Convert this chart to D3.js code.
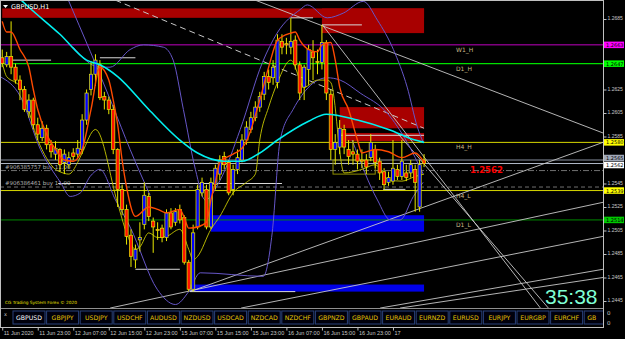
<!DOCTYPE html>
<html>
<head>
<meta charset="UTF-8">
<title>GBPUSD,H1</title>
<script src="https://d3js.org/d3.v7.min.js"></script>
<style>
  body { margin: 0; background: #000; }
  svg { display: block; font-family: "DejaVu Sans", sans-serif; }
</style>
</head>
<body>
<svg></svg>
<script>
const width = 625, height = 339;

// ---- data (H1 bars, index 0 = 11 Jun 15:00) ----
const open  = [1.2652,1.2646,1.2653,1.2644,1.2633,1.2625,1.2606,1.2616,1.2595,1.2584,1.2592,1.2578,1.2570,1.2574,1.2563,1.2561,1.2571,1.2570,1.2574,1.2599,
               1.2625,1.2638,1.2646,1.2619,1.2616,1.2608,1.2574,1.2540,1.2523,1.2501,1.2480,1.2497,1.2510,1.2534,1.2513,1.2506,1.2507,1.2499,1.2520,1.2512,
               1.2523,1.2516,1.2478,1.2455,1.2508,1.2537,1.2540,1.2508,1.2544,1.2553,1.2568,1.2563,1.2540,1.2557,1.2565,1.2582,1.2591,1.2601,1.2610,1.2621,
               1.2636,1.2635,1.2631,1.2666,1.2664,1.2661,1.2667,1.2646,1.2627,1.2642,1.2657,1.2649,1.2648,1.2665,1.2621,1.2574,1.2576,1.2591,1.2574,1.2572,
               1.2570,1.2565,1.2565,1.2567,1.2574,1.2564,1.2555,1.2546,1.2547,1.2557,1.2551,1.2554,1.2554,1.2557,1.2525,1.2565];
const high  = [1.2659,1.2657,1.2683,1.2647,1.2637,1.2628,1.2621,1.2618,1.2601,1.2598,1.2595,1.2582,1.2581,1.2575,1.2574,1.2572,1.2575,1.2582,1.2604,1.2625,
               1.2649,1.2655,1.2650,1.2623,1.2619,1.2612,1.2575,1.2544,1.2527,1.2506,1.2493,1.2512,1.2546,1.2537,1.2516,1.2512,1.2510,1.2523,1.2524,1.2524,
               1.2527,1.2518,1.2480,1.2510,1.2544,1.2550,1.2544,1.2550,1.2561,1.2569,1.2572,1.2565,1.2561,1.2574,1.2587,1.2598,1.2606,1.2615,1.2623,1.2640,
               1.2642,1.2650,1.2672,1.2672,1.2669,1.2686,1.2671,1.2649,1.2646,1.2663,1.2667,1.2659,1.2680,1.2667,1.2625,1.2587,1.2599,1.2595,1.2582,1.2582,
               1.2574,1.2574,1.2570,1.2587,1.2578,1.2567,1.2558,1.2555,1.2582,1.2561,1.2582,1.2561,1.2565,1.2561,1.2565,1.2570];
const low   = [1.2644,1.2644,1.2638,1.2630,1.2616,1.2606,1.2601,1.2591,1.2582,1.2581,1.2574,1.2567,1.2565,1.2555,1.2553,1.2558,1.2565,1.2567,1.2570,1.2595,
               1.2620,1.2628,1.2616,1.2608,1.2604,1.2570,1.2525,1.2518,1.2493,1.2474,1.2473,1.2487,1.2506,1.2513,1.2486,1.2497,1.2495,1.2496,1.2506,1.2509,
               1.2511,1.2476,1.2453,1.2453,1.2506,1.2534,1.2506,1.2506,1.2540,1.2548,1.2557,1.2535,1.2535,1.2553,1.2563,1.2578,1.2588,1.2598,1.2606,1.2616,
               1.2625,1.2629,1.2626,1.2655,1.2655,1.2655,1.2642,1.2616,1.2616,1.2629,1.2633,1.2638,1.2642,1.2616,1.2565,1.2561,1.2570,1.2570,1.2561,1.2561,
               1.2557,1.2558,1.2553,1.2564,1.2558,1.2548,1.2540,1.2543,1.2544,1.2548,1.2548,1.2547,1.2550,1.2521,1.2521,1.2559];
const close = [1.2647,1.2653,1.2644,1.2633,1.2625,1.2608,1.2616,1.2595,1.2587,1.2592,1.2578,1.2572,1.2575,1.2561,1.2570,1.2567,1.2568,1.2575,1.2599,1.2622,
               1.2638,1.2650,1.2618,1.2616,1.2608,1.2574,1.2540,1.2523,1.2500,1.2483,1.2489,1.2499,1.2535,1.2517,1.2508,1.2505,1.2499,1.2520,1.2508,1.2521,
               1.2514,1.2478,1.2455,1.2503,1.2540,1.2546,1.2508,1.2546,1.2558,1.2565,1.2561,1.2537,1.2557,1.2567,1.2582,1.2593,1.2601,1.2610,1.2619,1.2636,
               1.2631,1.2644,1.2667,1.2661,1.2663,1.2666,1.2646,1.2622,1.2644,1.2659,1.2652,1.2648,1.2665,1.2622,1.2574,1.2580,1.2592,1.2576,1.2568,1.2570,
               1.2564,1.2564,1.2559,1.2580,1.2563,1.2554,1.2544,1.2550,1.2558,1.2551,1.2564,1.2550,1.2561,1.2546,1.2561,1.2562];

// indicator lines: [bar index, price]
const maCyan = [[4,1.2702],[6,1.2695],[13,1.2672],[19,1.2650],[22,1.2646],[26,1.2636],[33,1.2608],[40,1.2582],[44,1.2571],[50,1.2564],
                [54,1.2564],[58,1.2571],[62,1.2582],[69,1.2598],[73,1.2604],[80,1.2599],[87,1.2591],[93,1.2582],[95,1.2580]];
const maOrange = [[0,1.2683],[1,1.2674],[2,1.2674],[4,1.2659],[6,1.2644],[7,1.2625],[8,1.2608],[10,1.2587],[12,1.2574],[14,1.2565],[16,1.2564],
                  [18,1.2574],[20,1.2608],[22,1.2644],[24,1.2633],[25,1.2616],[26,1.2595],[27,1.2565],[28,1.2542],[30,1.2517],[33,1.2525],[35,1.2523],
                  [37,1.2520],[40,1.2523],[41,1.2516],[42,1.2507],[44,1.2508],[46,1.2512],[47,1.2531],[48,1.2546],[49,1.2563],[52,1.2570],[54,1.2575],
                  [55,1.2581],[58,1.2616],[60,1.2644],[62,1.2667],[65,1.2673],[66,1.2674],[67,1.2667],[69,1.2659],[71,1.2657],[72,1.2663],[74,1.2665],
                  [75,1.2650],[76,1.2627],[78,1.2608],[80,1.2582],[81,1.2571],[84,1.2574],[87,1.2572],[90,1.2567],[93,1.2571],[95,1.2563]];
const maYellow = [[0,1.2648],[1,1.2636],[3,1.2631],[4,1.2628],[8,1.2582],[12,1.2557],[13,1.2555],[15,1.2553],[17,1.2563],[18,1.2571],[21,1.2591],
                  [26,1.2528],[28,1.2503],[30,1.2489],[31,1.2491],[33,1.2503],[35,1.2499],[37,1.2500],[40,1.2506],[42,1.2489],[43,1.2480],[44,1.2483],
                  [47,1.2506],[49,1.2517],[52,1.2537],[55,1.2546],[57,1.2553],[58,1.2582],[60,1.2610],[62,1.2631],[65,1.2650],[68,1.2627],[71,1.2633],
                  [73,1.2633],[74,1.2631],[77,1.2554],[81,1.2557],[84,1.2561],[87,1.2548],[90,1.2547],[93,1.2551],[95,1.2553]];
const bandUpper = [[16,1.2661],[22,1.2644],[24.3,1.2644],[28.8,1.2659],[31.8,1.2663],[36.3,1.2661],[38.5,1.2650],[40.8,1.2608],[43.5,1.2557],
                   [45.7,1.2531],[49.1,1.2548],[53.6,1.2591],[58.6,1.2648],[61.9,1.2673],[67.1,1.2693],[68.7,1.2697],[73.2,1.2686],[76.8,1.2690],
                   [81.3,1.2700],[84.5,1.2684],[88.1,1.2659],[91.2,1.2627],[93.5,1.2593],[94.8,1.2580]];
const bandLower = [[-0.5,1.2636],[4.1,1.2619],[8.6,1.2574],[13.1,1.2546],[15.3,1.2534],[17.6,1.2537],[19.8,1.2551],[22,1.2557],[25.5,1.2531],
                   [28.8,1.2508],[34.9,1.2455],[39,1.2442],[42,1.2453],[44.6,1.2469],[58.8,1.2466],[60.8,1.2503],[62.6,1.2582],[65.5,1.2608],[73.2,1.2635],
                   [76.1,1.2633],[80.6,1.2622],[86.7,1.2605],[91.2,1.2580],[94.8,1.2553]];
const bandSteep = [[14.9,1.2701],[24.8,1.2612],[28.8,1.2574],[33.3,1.2535]];
const bandLate  = [[78.8,1.2582],[84.5,1.2531],[87.4,1.2514],[89.6,1.2514],[92.6,1.2534],[94.8,1.2546]];

// support / resistance levels
const levelNames  = ["W1_H", "D1_H", "H4_H", "H4_L", "D1_L"];
const levelPrices = [1.2663, 1.2647, 1.2580, 1.2539, 1.2514];
const askPrice = 1.2565, bidPrice = 1.2562;
const orderNames  = ["#906385757 buy 11.00", "#906386461 buy 11.00"];
const orderPrices = [1.2556, 1.2542];

// zones: [from bar, to bar, top price, bottom price]
const supplyZones = [[0,95,1.2694,1.2686],[72,95,1.2694,1.2673],[76,95,1.2610,1.2592],[76,95,1.2588,1.2581]];
const demandZones = [[47,95,1.2518,1.2504],[42,95,1.2459,1.2453]];

// trend lines: [bar1, price1, bar2, price2]
const trendLines = [[57,1.2701,135.3,1.2588],[72.1,1.2680,121.2,1.2439],[89.2,1.2587,123,1.2439],
                    [42.3,1.2453,135.3,1.2580],[24.3,1.2439,135.3,1.2529],[53.8,1.2439,135.3,1.2500],
                    [85.1,1.2439,135.3,1.2472],[89.6,1.2439,135.3,1.2465]];
const dashedLines = [[25.5,1.2701,95,1.2592]];
// short horizontal marks: [bar1, bar2, price]
const hMarks = [[2,11,1.2650],[22,30,1.2652],[65,70,1.2686],[72,81,1.2680],[12.6,63,1.2545],[30,40,1.2472],
                [42.3,66,1.2453],[85.8,90.8,1.2540],[76,95,1.2586]];
const boxMarks = [[74.5,84,1.2565,1.2553]];

const priceTicks = [1.2685,1.2665,1.2645,1.2625,1.2605,1.2585,1.2565,1.2545,1.2525,1.2505,1.2485,1.2465,1.2445];
const timeTickBars = [0,8,16,24,32,40,48,56,64,72,80,88];
const timeTickLabels = ["11 Jun 2020","11 Jun 23:00","12 Jun 07:00","12 Jun 15:00","12 Jun 23:00","15 Jun 07:00",
                        "15 Jun 15:00","15 Jun 23:00","16 Jun 07:00","16 Jun 15:00","16 Jun 23:00","17"];
const symbols = ["GBPUSD","GBPJPY","USDJPY","USDCHF","AUDUSD","NZDUSD","USDCAD","NZDCAD","NZDCHF","GBPNZD",
                 "GBPAUD","EURAUD","EURNZD","EURUSD","EURJPY","EURGBP","EURCHF","GBPCAD"];
const timer = "35:38";

// ---- layout ----
const plotR = 603, plotB = 308, panelB = 327;
const svg = d3.select("svg").attr("width", width).attr("height", height);
svg.append("rect").attr("width", width).attr("height", height).attr("fill", "#000");

const x = d3.scaleLinear().domain([-0.5, 135.3]).range([0, plotR]);
const y = d3.scaleLinear().domain([1.2445, 1.2685]).range([301, 19]);

svg.append("clipPath").attr("id", "plot")
  .append("rect").attr("x", 0).attr("y", 1).attr("width", plotR).attr("height", plotB - 1);
const g = svg.append("g").attr("clip-path", "url(#plot)");

// zones
g.selectAll(".supply").data(supplyZones).join("rect")
  .attr("x", d => x(d[0])).attr("width", d => x(d[1]) - x(d[0]))
  .attr("y", d => y(d[2])).attr("height", d => y(d[3]) - y(d[2]))
  .attr("fill", "#a80000");
g.selectAll(".demand").data(demandZones).join("rect")
  .attr("x", d => x(d[0])).attr("width", d => x(d[1]) - x(d[0]))
  .attr("y", d => y(d[2])).attr("height", d => y(d[3]) - y(d[2]))
  .attr("fill", "#0000e8");

// horizontal levels
const levelLine = {W1_H: "#c000c0", D1_H: "#00e000", H4_H: "#d8d800", H4_L: "#d8d800", D1_L: "#008a00"};
const levelBox  = {W1_H: "#ff00ff", D1_H: "#00ff00", H4_H: "#ffff00", H4_L: "#ffff00", D1_L: "#00c800"};
levelNames.forEach((n, k) => {
  g.append("line").attr("x1", 0).attr("x2", plotR)
    .attr("y1", y(levelPrices[k])).attr("y2", y(levelPrices[k]))
    .attr("stroke", levelLine[n]).attr("stroke-width", n === "D1_H" ? 1.3 : 1);
  g.append("text").attr("x", 456).attr("y", y(levelPrices[k]) + 7)
    .attr("font-size", 6).attr("fill", "#c8b888").text(n);
});
g.append("line").attr("x1", 0).attr("x2", plotR).attr("y1", y(askPrice)).attr("y2", y(askPrice))
  .attr("stroke", "#8890a0");
g.append("line").attr("x1", 0).attr("x2", plotR).attr("y1", y(bidPrice)).attr("y2", y(bidPrice))
  .attr("stroke", "#b0b8c8");
orderPrices.forEach((p, k) => {
  g.append("line").attr("x1", 0).attr("x2", plotR).attr("y1", y(p)).attr("y2", y(p))
    .attr("stroke", "#707070").attr("stroke-dasharray", k === 0 ? "6,2,1,2" : "4,3");
  g.append("text").attr("x", 5).attr("y", y(p) - 2).attr("font-size", 5.5)
    .attr("fill", "#b0b0b0").text(orderNames[k]);
});

// trend lines
g.selectAll(".tl").data(trendLines).join("line")
  .attr("x1", d => x(d[0])).attr("y1", d => y(d[1]))
  .attr("x2", d => x(d[2])).attr("y2", d => y(d[3]))
  .attr("stroke", "#c8c8c8").attr("stroke-width", 0.9);
g.selectAll(".dl").data(dashedLines).join("line")
  .attr("x1", d => x(d[0])).attr("y1", d => y(d[1]))
  .attr("x2", d => x(d[2])).attr("y2", d => y(d[3]))
  .attr("stroke", "#c8c8c8").attr("stroke-dasharray", "6,4");
g.selectAll(".hm").data(hMarks).join("line")
  .attr("x1", d => x(d[0])).attr("x2", d => x(d[1]))
  .attr("y1", d => y(d[2])).attr("y2", d => y(d[2]))
  .attr("stroke", "#d8d8d8");
g.selectAll(".bx").data(boxMarks).join("rect")
  .attr("x", d => x(d[0])).attr("width", d => x(d[1]) - x(d[0]))
  .attr("y", d => y(d[2])).attr("height", d => y(d[3]) - y(d[2]))
  .attr("fill", "none").attr("stroke", "#909000");

// indicator curves
const curve = d3.line().x(d => x(d[0])).y(d => y(d[1])).curve(d3.curveMonotoneX);
[bandUpper, bandLower, bandSteep, bandLate]
  .forEach(pts => g.append("path").attr("d", curve(pts)).attr("fill", "none").attr("stroke", "#6656c8").attr("stroke-width", 1));
g.append("path").attr("d", curve(maYellow)).attr("fill", "none").attr("stroke", "#c8c800").attr("stroke-width", 0.9);

// candles
const bars = d3.range(open.length);
g.selectAll(".wick").data(bars).join("line")
  .attr("x1", i => x(i)).attr("x2", i => x(i))
  .attr("y1", i => y(high[i])).attr("y2", i => y(low[i]))
  .attr("stroke", "#e8e800").attr("stroke-width", 1);
g.selectAll(".body").data(bars).join("rect")
  .attr("x", i => x(i) - 1.6).attr("width", 3.2)
  .attr("y", i => y(Math.max(open[i], close[i])))
  .attr("height", i => Math.max(0.8, Math.abs(y(open[i]) - y(close[i]))))
  .attr("fill", i => close[i] > open[i] ? "#0000ff" : close[i] < open[i] ? "#ff1000" : "#e8e800")
  .attr("stroke", "#e8e800").attr("stroke-width", 0.7);

g.append("path").attr("d", curve(maOrange)).attr("fill", "none").attr("stroke", "#ff4a00").attr("stroke-width", 1.4);
g.append("path").attr("d", curve(maCyan)).attr("fill", "none").attr("stroke", "#00f0f0").attr("stroke-width", 1.6);

// texts inside the plot
svg.append("path").attr("d", "M3,5 L8,5 L5.5,8 Z").attr("fill", "#fff");
svg.append("text").attr("x", 11).attr("y", 9).attr("font-size", 6.5).attr("fill", "#fff").text("GBPUSD,H1");
svg.append("text").attr("x", 470).attr("y", y(bidPrice) + 9).attr("font-size", 8.5).attr("font-weight", "bold")
  .attr("fill", "#ff0000").text(d3.format(".4f")(bidPrice));
svg.append("text").attr("x", 545).attr("y", 304).attr("font-family", "Liberation Sans, sans-serif")
  .attr("font-size", 21).attr("fill", "#7fffd4").text(timer);
svg.append("text").attr("x", 5).attr("y", 304).attr("font-size", 4.3).attr("fill", "#e8e000")
  .text("CG Trading System Forex \u00a9 2020");

// button panel
svg.append("line").attr("x1", 0).attr("x2", plotR).attr("y1", plotB + 0.5).attr("y2", plotB + 0.5).attr("stroke", "#909090");
svg.append("text").attr("x", 4).attr("y", 316).attr("font-size", 5).attr("fill", "#c0c0c0").text("x");
svg.append("clipPath").attr("id", "panel").append("rect").attr("x", 0).attr("y", plotB).attr("width", plotR).attr("height", panelB - plotB);
const btn = svg.append("g").attr("clip-path", "url(#panel)");
const bx = d3.scaleLinear().domain([0, 1]).range([13, 46.6]);
symbols.forEach((s, k) => {
  btn.append("rect").attr("x", bx(k)).attr("y", 311).attr("width", 32).attr("height", 13)
    .attr("fill", "#00000c").attr("stroke", "#28407a").attr("stroke-width", 1);
  const t = btn.append("text").attr("x", bx(k) + 16).attr("y", 320).attr("text-anchor", "middle")
    .attr("font-size", 6.2).attr("fill", k === 0 ? "#ffffff" : "#e8c400").text(s);
  // the last button is cut by the price scale: keep only the letters that are visible
  const w = t.node().getComputedTextLength();
  if (bx(k) + 16 + w / 2 > plotR) {
    let txt = s;
    t.attr("text-anchor", "start").attr("x", bx(k) + 16 - w / 2);
    while (txt.length > 1 && bx(k) + 16 - w / 2 + t.node().getComputedTextLength() > plotR - 6) {
      txt = txt.slice(0, -1);
      t.text(txt);
    }
  }
});

// frame and axes
svg.append("rect").attr("x", 0.5).attr("y", 0.5).attr("width", plotR).attr("height", panelB)
  .attr("fill", "none").attr("stroke", "#c0c0c0");

// price label boxes on the right edge (ask drawn slightly above, bid below)
const boxes = [...levelNames.map((n, k) => [levelPrices[k], levelBox[n], 0]), [askPrice, "#a0a8b8", -2], [bidPrice, "#ffffff", 1.5]];
const yAxis = svg.append("g").attr("transform", `translate(${plotR + 0.5},0)`)
  .call(d3.axisRight(y).tickValues(priceTicks).tickSize(3).tickFormat(d3.format(".4f")));
yAxis.select(".domain").remove();
yAxis.selectAll("line").attr("stroke", "#c0c0c0");
yAxis.selectAll("text").attr("font-size", 5).attr("fill", "#c8c8c8").attr("x", 4).attr("dy", "0.15em")
  .attr("display", d => boxes.some(b => Math.abs(y(b[0]) + b[2] - y(d)) < 4) ? "none" : null);

boxes.forEach(([p, c, off]) => {
  const cy = y(p) + off;
  svg.append("rect").attr("x", plotR + 1).attr("y", cy - 3.25).attr("width", 20).attr("height", 6.5).attr("fill", c);
  svg.append("text").attr("x", plotR + 3).attr("y", cy + 2).attr("font-size", 5).attr("fill", "#000")
    .text(d3.format(".4f")(p));
});
svg.append("text").attr("x", 607).attr("y", 315).attr("font-size", 5.5).attr("fill", "#c8c8c8").text("0");
svg.append("text").attr("x", 607).attr("y", 325).attr("font-size", 5.5).attr("fill", "#c8c8c8").text("0");

const xAxis = svg.append("g").attr("transform", `translate(0,${panelB + 0.5})`)
  .call(d3.axisBottom(x).tickValues(timeTickBars).tickSize(3).tickFormat((d, k) => timeTickLabels[k]));
xAxis.select(".domain").remove();
xAxis.selectAll("line").attr("stroke", "#c0c0c0");
xAxis.selectAll("text").attr("font-size", 5.5).attr("fill", "#c8c8c8")
  .attr("text-anchor", "start").attr("x", 1).attr("y", 4).attr("dy", "0.71em");
</script>
</body>
</html>
